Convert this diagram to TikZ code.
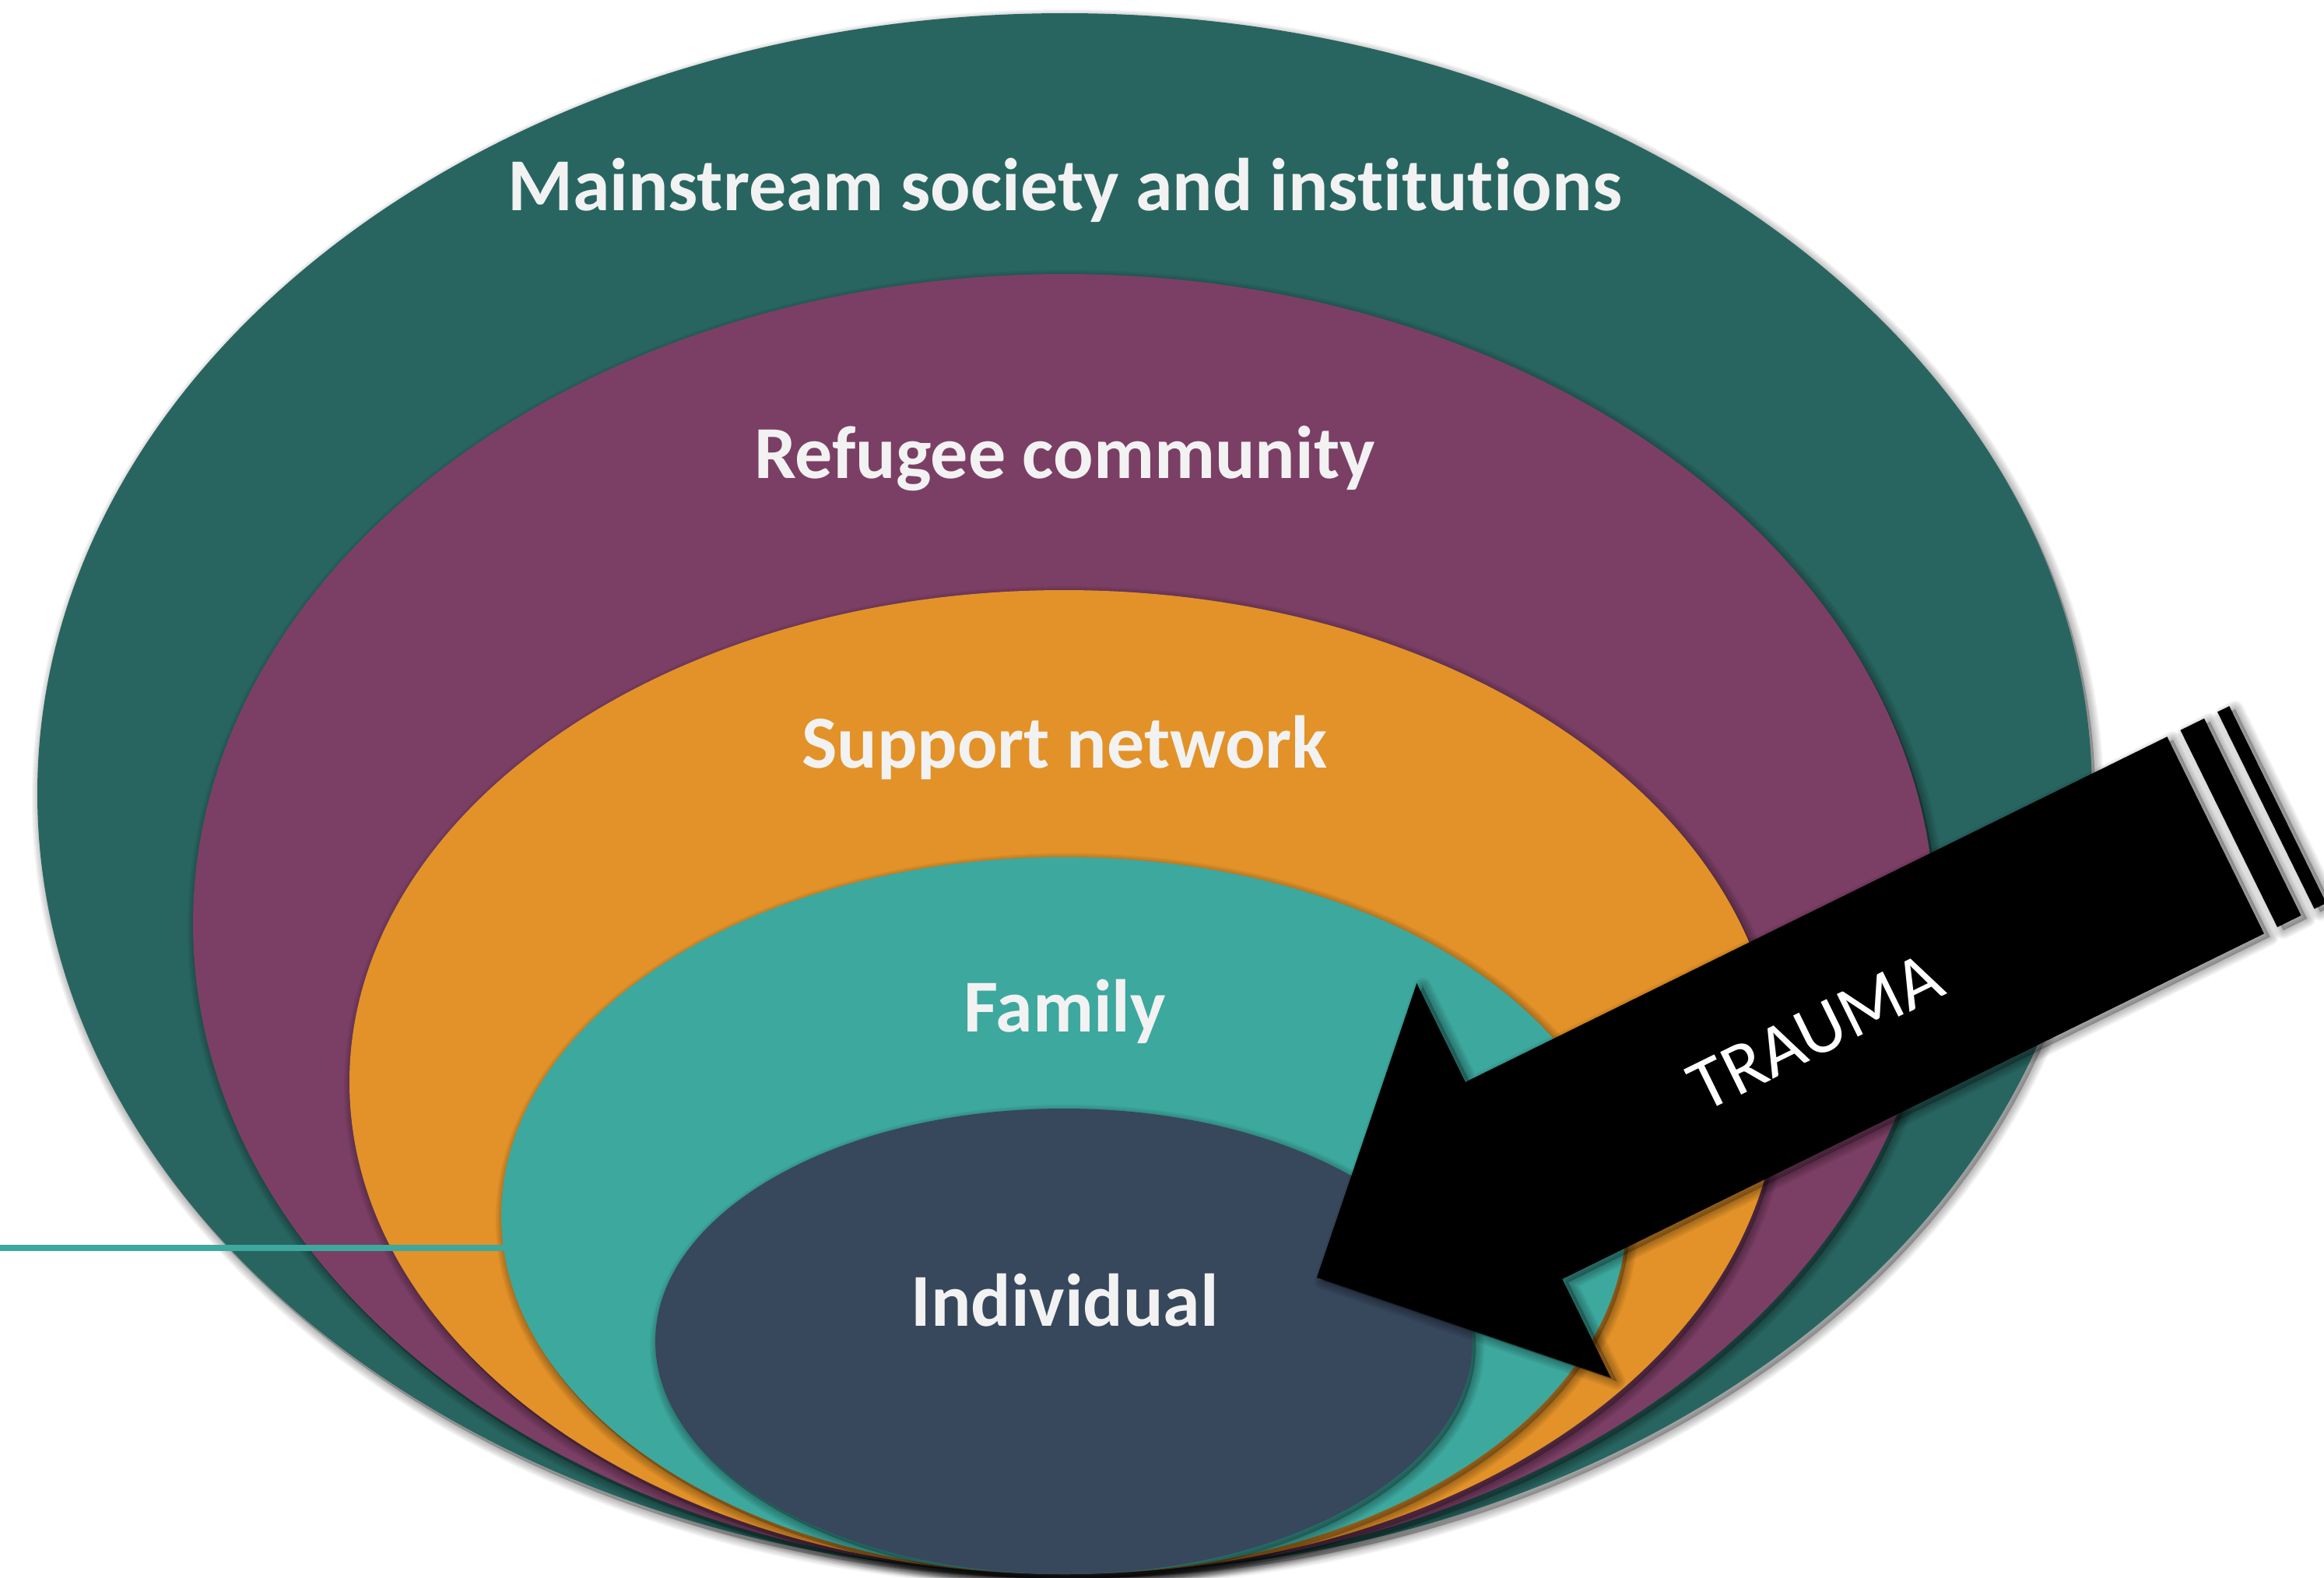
\documentclass[tikz,border=0pt]{standalone}
\usepackage{fontspec}
\setmainfont{Carlito}[Ligatures=NoCommon]
\definecolor{societyc}{HTML}{286560}
\definecolor{refugeec}{HTML}{7B3F65}
\definecolor{supportc}{HTML}{E29228}
\definecolor{familyc}{HTML}{3DA89E}
\definecolor{individualc}{HTML}{37475C}
\definecolor{labelc}{HTML}{F2F2F2}

% soft shadow: the path #2, moved by #1, blurred by stacked translucent strokes
\newcommand{\blurshadow}[2]{%
  \begin{scope}[shift={#1}]
    \foreach \w in {2,6,10,14,18,22}{\draw[black, draw opacity=0.05, line width=\w pt, line join=round] #2;}
    \fill[black, opacity=0.25] #2;
  \end{scope}}

\newcommand{\arrowbody}{(-282,0) -- (0,-282.5) -- (0,-141) -- (1005,-141) -- (1005,141) -- (0,141) -- (0,282.5) -- cycle}
\newcommand{\stripeone}{(1024,-141) rectangle (1058,141)}
\newcommand{\stripetwo}{(1077,-141) rectangle (1094,141)}

\begin{document}
\begin{tikzpicture}[x=1pt, y=-1pt,
  ringlabel/.style={text=labelc, anchor=base, inner sep=0pt,
    font=\bfseries\fontsize{96}{115}\selectfont},
  traumalabel/.style={text=white, inner sep=0pt,
    font=\fontsize{95}{110}\selectfont}]
\useasboundingbox (0,0) rectangle (2986,2026);
\clip (0,0) rectangle (2986,2026);
\fill[white] (0,0) rectangle (2986,2026);

% nested circles of the social ecology, outermost first
\blurshadow{(4,6)}{(1368,1019.5) ellipse [x radius=1320, y radius=1002.5]}
\fill[societyc] (1368,1019.5) ellipse [x radius=1320, y radius=1002.5];

\blurshadow{(4,6)}{(1367,1187) ellipse [x radius=1119, y radius=835]}
\fill[refugeec] (1367,1187) ellipse [x radius=1119, y radius=835];

\blurshadow{(4,6)}{(1367,1390) ellipse [x radius=918, y radius=632]}
\fill[supportc] (1367,1390) ellipse [x radius=918, y radius=632];

\blurshadow{(4,6)}{(1367,1561.5) ellipse [x radius=723, y radius=460.5]}
% rule leading in to the family circle
\coordinate (leadStart) at (0,1603);
\coordinate (leadEnd) at (700,1603);
\draw[familyc, line width=8pt] (leadStart) -- (leadEnd);
\fill[familyc] (1367,1561.5) ellipse [x radius=723, y radius=460.5];

\blurshadow{(4,6)}{(1367,1723) ellipse [x radius=525, y radius=299]}
\fill[individualc] (1367,1723) ellipse [x radius=525, y radius=299];

% labels
\node[ringlabel] (lblSociety) at (1368,270) {Mainstream society and institutions};
\node[ringlabel] (lblRefugee) at (1368,614) {Refugee community};
\node[ringlabel] (lblSupport) at (1368,986) {Support network};
\node[ringlabel] (lblFamily) at (1368,1325) {Family};
\node[ringlabel] (lblIndividual) at (1368,1703) {Individual};

% the trauma arrow striking the individual
\begin{scope}[shift={(1945,1516.5)}, rotate=26.2]
  \blurshadow{(5,7)}{\arrowbody}
  \blurshadow{(5,7)}{\stripeone}
  \blurshadow{(5,7)}{\stripetwo}
  \fill[black] \arrowbody;
  \fill[black] \stripeone;
  \fill[black] \stripetwo;
  \node[traumalabel, transform shape] (lblTrauma) at (432,0) {TRAUMA};
\end{scope}
\end{tikzpicture}
\end{document}
